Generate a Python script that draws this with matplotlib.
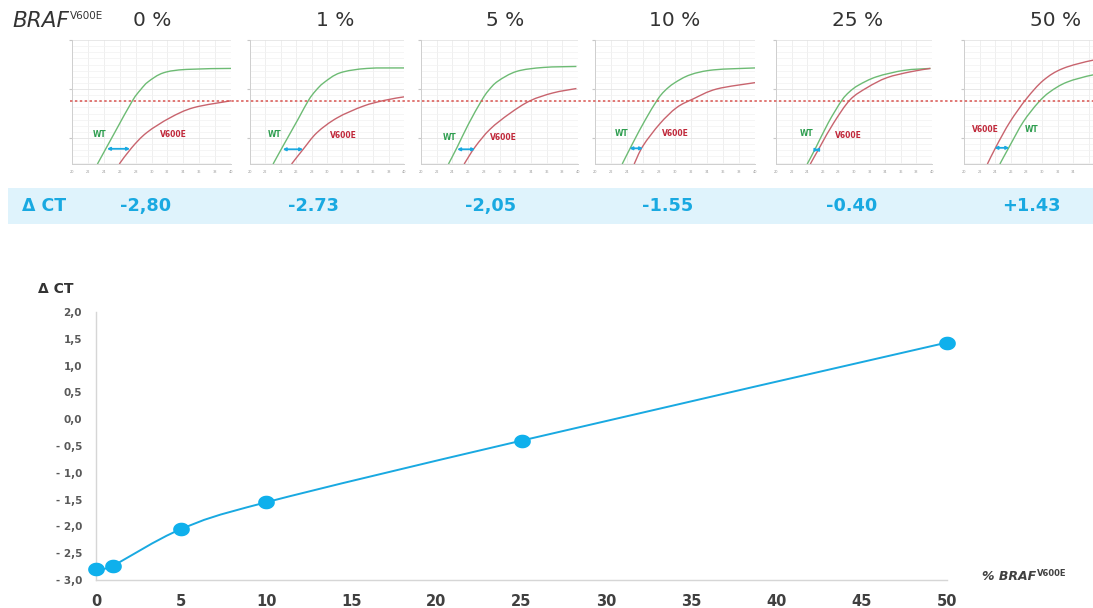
import numpy as np
import matplotlib.pyplot as plt
from matplotlib.path import Path
from matplotlib.patches import PathPatch

plt.rcParams['font.family'] = ['DejaVu Sans']

# mutant allele fraction of each sample (%) and the measured delta Ct
pct = [0, 1, 5, 10, 25, 50]
dct = [-2.80, -2.73, -2.05, -1.55, -0.40, 1.43]
dct_labels = ["-2,80", "-2.73", "-2,05", "-1.55", "-0.40", "+1.43"]

# amplification curves (cycle, fluorescence) for each sample
wt_x = [[23.2, 25.4, 27.6, 28.6, 29.6, 31.5, 34.4, 40.0],
        [23.0, 24.3, 26.3, 27.6, 28.5, 29.6, 31.7, 35.2, 40.0],
        [23.5, 24.6, 26.0, 27.7, 28.6, 29.8, 32.2, 35.6, 39.8],
        [23.4, 24.8, 26.25, 27.8, 28.7, 29.9, 31.9, 34.8, 40.0],
        [24.0, 25.0, 26.7, 28.4, 29.4, 30.6, 32.9, 36.4, 39.8],
        [24.6, 25.9, 27.6, 29.5, 31.0, 33.2, 36.6, 40.0]]
wt_y = [[0.47, 1.12, 1.76, 1.98, 2.15, 2.33, 2.40, 2.42],
        [0.47, 0.84, 1.40, 1.77, 1.96, 2.13, 2.33, 2.42, 2.43],
        [0.47, 0.81, 1.27, 1.76, 1.97, 2.16, 2.36, 2.44, 2.46],
        [0.47, 0.92, 1.36, 1.78, 1.96, 2.12, 2.29, 2.39, 2.43],
        [0.47, 0.77, 1.31, 1.76, 1.94, 2.08, 2.25, 2.38, 2.42],
        [0.47, 0.85, 1.33, 1.72, 1.94, 2.14, 2.29, 2.36]]
mut_x = [[25.95, 27.5, 29.4, 32.3, 35.3, 40.0],
         [25.4, 26.9, 28.7, 31.3, 34.7, 37.5, 40.0],
         [25.5, 26.9, 28.8, 31.3, 33.9, 36.8, 39.8],
         [24.9, 26.0, 28.1, 30.2, 32.3, 35.2, 40.0],
         [24.4, 25.7, 27.4, 29.5, 31.7, 34.2, 37.2, 39.8],
         [23.0, 24.2, 25.9, 28.0, 30.2, 32.7, 36.6, 40.0]]
mut_y = [[0.47, 0.80, 1.11, 1.41, 1.62, 1.76],
         [0.47, 0.77, 1.11, 1.41, 1.65, 1.77, 1.84],
         [0.47, 0.82, 1.18, 1.50, 1.76, 1.92, 2.01],
         [0.47, 0.84, 1.29, 1.62, 1.80, 2.00, 2.13],
         [0.47, 0.84, 1.31, 1.78, 2.03, 2.23, 2.35, 2.42],
         [0.47, 0.85, 1.33, 1.80, 2.18, 2.42, 2.59, 2.66]]
threshold = 1.755

# Ct gap arrows (start cycle, end cycle, height) and curve label spots
gap = [(24.4, 27.3, 0.78), (24.25, 26.9, 0.77), (24.6, 26.9, 0.77),
       (24.3, 26.0, 0.79), (25.0, 25.45, 0.76), (23.9, 25.8, 0.80)]
wt_lab = [(23.5, 1.07), (23.25, 1.07), (23.6, 1.02), (23.3, 1.09), (23.95, 1.10), (28.7, 1.17)]
mut_lab = [(32.7, 1.07), (32.1, 1.05), (30.5, 1.02), (30.1, 1.09), (29.3, 1.06), (22.7, 1.17)]

cycles = list(range(20, 41, 2))
yticks = [-3.0, -2.5, -2.0, -1.5, -1.0, -0.5, 0.0, 0.5, 1.0, 1.5, 2.0]
ytick_labels = ["- 3,0", "- 2,5", "- 2,0", "- 1,5", "- 1,0", "- 0,5",
                "0,0", "0,5", "1,0", "1,5", "2,0"]
xticks = list(range(0, 51, 5))

BLUE = "#19a9e1"
GREEN_LINE = "#6dbb74"
RED_LINE = "#c8646e"
GREEN_TXT = "#2f9e50"
RED_TXT = "#c0283a"

W, H = 1093, 608
fig = plt.figure(figsize=(W / 100, H / 100), dpi=100)


def px_axes(left, top, right, bottom):
    return fig.add_axes([left / W, 1 - bottom / H, (right - left) / W, (bottom - top) / H])


def smooth_path(xs, ys):
    # cubic bezier through the points, like a spreadsheet "smoothed line"
    pts = np.column_stack([xs, ys]).astype(float)
    n = len(pts)
    verts = [pts[0]]
    codes = [Path.MOVETO]
    for i in range(n - 1):
        p0 = pts[max(i - 1, 0)]
        p1 = pts[i]
        p2 = pts[i + 1]
        p3 = pts[min(i + 2, n - 1)]
        verts += [p1 + (p2 - p0) / 6, p2 - (p3 - p1) / 6, p2]
        codes += [Path.CURVE4] * 3
    return Path(verts, codes)


# small amplification plots
panel_left = [72, 250, 421, 595, 776, 964]
panel_w = [159, 154, 157, 160, 156, 156]
for i in range(6):
    left = panel_left[i]
    ax = px_axes(left, 40, left + panel_w[i], 164)
    ax.set_xlim(20, 40)
    ax.set_ylim(0.47, 3.0)
    ax.set_xticks(cycles)
    # the last plot runs past the right edge, keep only the labels that fit
    px_per_cycle = panel_w[i] / 20
    labels = [str(c) if left + (c - 20) * px_per_cycle < W - 6 else "" for c in cycles]
    ax.set_xticklabels(labels, fontsize=2.5, color="#999999")
    ax.set_yticks([1, 2, 3])
    ax.set_yticklabels([])
    ax.set_yticks(np.arange(0.5, 3.0, 0.125), minor=True)
    ax.tick_params(axis="x", length=0, pad=4)
    ax.tick_params(axis="y", which="major", length=2, color="#c8c8c8")
    ax.tick_params(axis="y", which="minor", length=0)
    ax.grid(axis="x", color="#ececec", lw=0.6)
    ax.grid(axis="y", which="major", color="#e4e4e4", lw=0.6)
    ax.grid(axis="y", which="minor", color="#f2f2f2", lw=0.5)
    ax.set_axisbelow(True)
    for s in ["top", "right"]:
        ax.spines[s].set_visible(False)
    for s in ["left", "bottom"]:
        ax.spines[s].set_color("#cfcfcf")
        ax.spines[s].set_linewidth(0.7)

    ax.add_patch(PathPatch(smooth_path(wt_x[i], wt_y[i]), fill=False,
                           edgecolor=GREEN_LINE, lw=1.0))
    ax.add_patch(PathPatch(smooth_path(mut_x[i], mut_y[i]), fill=False,
                           edgecolor=RED_LINE, lw=1.0))
    x1, x2, y = gap[i]
    ax.annotate("", xy=(x2, y), xytext=(x1, y),
                arrowprops=dict(arrowstyle="<|-|>", color=BLUE, lw=1.3,
                                mutation_scale=4, shrinkA=0, shrinkB=0))
    ax.text(*wt_lab[i], "WT", color=GREEN_TXT, fontsize=5.5, fontweight="bold",
            ha="center", va="center")
    ax.text(*mut_lab[i], "V600E", color=RED_TXT, fontsize=5.5, fontweight="bold",
            ha="center", va="center")

# common Ct threshold across all plots
thr = px_axes(70, 40, W, 164)
thr.set_ylim(0.47, 3.0)
thr.axis("off")
thr.axhline(threshold, color="#d9534f", lw=1.1, ls=(0, (1.6, 1.6)))

# sample titles
braf = fig.text(12 / W, 1 - 21 / H, "BRAF", fontsize=15.5, fontstyle="italic",
                color="#333333", ha="left", va="center")
plt.annotate("V600E", xy=(1.02, 1.0), xycoords=braf, fontsize=7.5,
             color="#333333", ha="left", va="top", annotation_clip=False)
title_x = [152, 335, 505, 675, 858, 1056]
for p, x in zip(pct, title_x):
    fig.text(x / W, 1 - 21 / H, f"{p} %", fontsize=14.5, color="#333333",
             ha="center", va="center")

# delta Ct band
band = px_axes(8, 188, W, 224)
band.set_facecolor("#dff3fc")
band.set_xlim(8, W)
band.set_ylim(0, 1)
band.set_xticks([])
band.set_yticks([])
for s in band.spines.values():
    s.set_visible(False)
band.text(22, 0.5, "Δ CT", color=BLUE, fontsize=12.5, fontweight="bold", va="center")
band_x = [146, 313, 491, 668, 852, 1031]
for x, lab in zip(band_x, dct_labels):
    band.text(x, 0.5, lab, color=BLUE, fontsize=12.8, fontweight="bold",
              ha="center", va="center")

# delta Ct vs mutant fraction
ax = px_axes(96, 312, 947, 580)
ax.set_xlim(0, 50)
ax.set_ylim(-3, 2)
ax.add_patch(PathPatch(smooth_path(pct, dct), fill=False, edgecolor=BLUE, lw=1.4,
                       clip_on=False))
t = np.linspace(0, 2 * np.pi, 48)
ellipse = Path(np.column_stack([np.cos(t), 0.8 * np.sin(t)]))
ax.plot(pct, dct, ls="none", marker=ellipse, markersize=11, color="#0fb0ec",
        clip_on=False, zorder=3)
ax.set_xticks(xticks)
ax.set_xticklabels([str(x) for x in xticks], fontsize=10.5, fontweight="bold",
                   color="#404040")
ax.set_yticks(yticks)
ax.set_yticklabels(ytick_labels, fontsize=7.5, fontweight="bold", color="#595959")
ax.tick_params(length=0)
ax.tick_params(axis="x", pad=10)
ax.tick_params(axis="y", pad=10)
for s in ["top", "right"]:
    ax.spines[s].set_visible(False)
for s in ["left", "bottom"]:
    ax.spines[s].set_color("#d6d6d6")
    ax.spines[s].set_linewidth(1.0)

fig.text(38 / W, 1 - 289 / H, "Δ CT", fontsize=10, fontweight="bold",
         color="#333333", ha="left", va="center")
xl = fig.text(982 / W, 1 - 576 / H, "% BRAF", fontsize=9, fontweight="bold",
              fontstyle="italic", color="#404040", ha="left", va="center")
plt.annotate("V600E", xy=(1.02, 1.0), xycoords=xl, fontsize=6, fontweight="bold",
             color="#404040", ha="left", va="top", annotation_clip=False)

fig.savefig("out.png", dpi=100)
